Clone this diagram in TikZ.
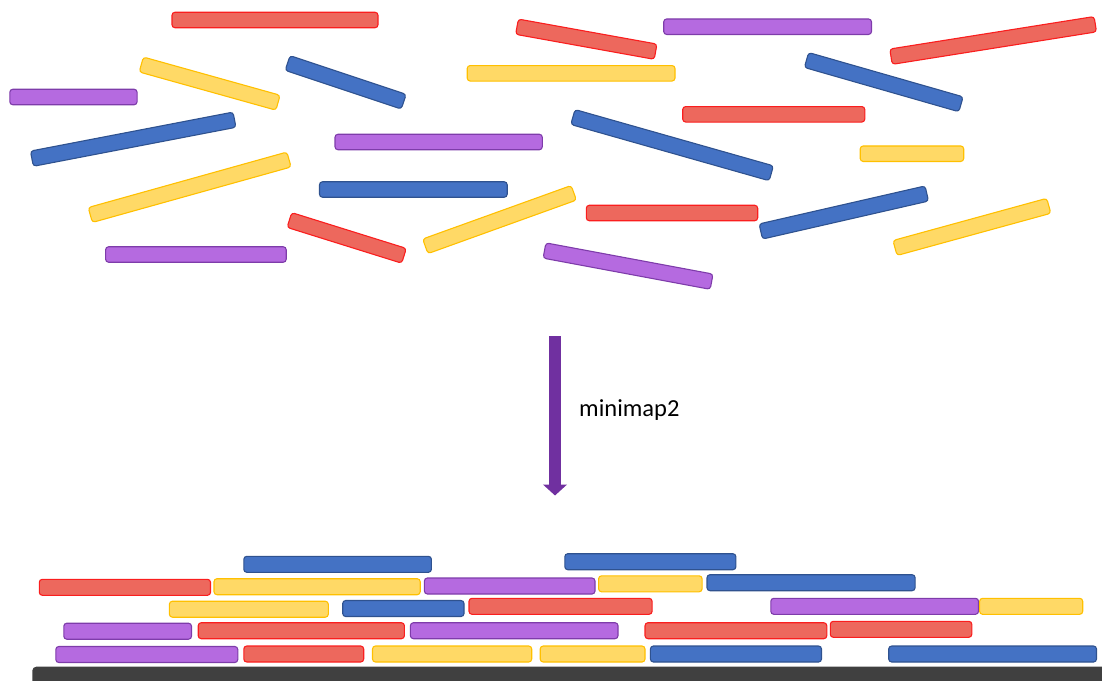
\documentclass[tikz,border=0pt]{standalone}
\usepackage{fontspec}
\setmainfont{Carlito}
\usetikzlibrary{calc,arrows.meta}

\definecolor{redfill}{RGB}{237,104,93}
\definecolor{redline}{RGB}{250,30,30}
\definecolor{yelfill}{RGB}{255,217,102}
\definecolor{yelline}{RGB}{255,192,0}
\definecolor{blufill}{RGB}{68,114,196}
\definecolor{bluline}{RGB}{47,82,143}
\definecolor{purfill}{RGB}{181,106,224}
\definecolor{purline}{RGB}{126,60,170}
\definecolor{arrowpurple}{RGB}{112,48,160}
\definecolor{refdark}{RGB}{64,64,64}

\tikzset{
  readbar/.style={draw, line width=1.1pt, rounded corners=3pt, inner sep=0pt,
    minimum height=15.5pt, outer sep=0pt},
  redr/.style={readbar, fill=redfill, draw=redline},
  yelr/.style={readbar, fill=yelfill, draw=yelline},
  blur/.style={readbar, fill=blufill, draw=bluline},
  purr/.style={readbar, fill=purfill, draw=purline},
  aligned/.style={minimum height=16pt},
  maparrow/.style={draw=arrowpurple, line width=11.4pt,
    -{Triangle[width=23.5pt,length=11pt]}},
  toollabel/.style={font=\fontsize{24.5}{29}\selectfont, inner sep=0pt, anchor=base west}
}

% one read: style, name, centre of one end, centre of the other end
\newcommand\drawread[4]{%
  \path let \p1=($#4-#3$), \n1={atan2(\y1,\x1)}, \n2={veclen(\x1,\y1)} in
    node[#1, rotate=\n1, minimum width=\n2] (#2) at ($#3!0.5!#4$) {};}

\begin{document}
\begin{tikzpicture}[x=1pt,y=-1pt]
\useasboundingbox (0,0) rectangle (1102,680);
\clip (0,0) rectangle (1102,680);

% unaligned reads
\drawread{redr}{t1}{(172,20)}{(378,20)}
\drawread{yelr}{t2}{(141.3,64.5)}{(278,102.7)}
\drawread{blur}{t3}{(287.6,63)}{(403.7,101.7)}
\drawread{purr}{t4}{(9.8,97)}{(137.1,97)}
\drawread{blur}{t5}{(31.9,158.7)}{(234.5,119.7)}
\drawread{purr}{t6}{(335,142)}{(542.3,142)}
\drawread{yelr}{t7}{(90.3,215)}{(289,159.5)}
\drawread{blur}{t8}{(319.5,189.5)}{(507.2,189.5)}
\drawread{redr}{t9}{(289.4,220)}{(404,255.8)}
\drawread{purr}{t10}{(105.6,254.5)}{(286.2,254.5)}
\drawread{yelr}{t11}{(425.3,246.3)}{(573.8,192.8)}
\drawread{redr}{t12}{(517,26.7)}{(655.6,51.7)}
\drawread{purr}{t13}{(663.7,26.7)}{(871.5,26.7)}
\drawread{redr}{t14}{(891,56.7)}{(1095.3,24.2)}
\drawread{yelr}{t15}{(467.2,73.3)}{(675,73.3)}
\drawread{blur}{t16}{(806.5,60)}{(961,104.3)}
\drawread{redr}{t17}{(682.7,114.3)}{(864.8,114.3)}
\drawread{blur}{t18}{(572.9,117)}{(771.3,173.3)}
\drawread{yelr}{t19}{(860.2,153.7)}{(963.7,153.7)}
\drawread{redr}{t20}{(586.3,213)}{(757.7,213)}
\drawread{blur}{t21}{(760.8,231.5)}{(926.8,193.5)}
\drawread{yelr}{t22}{(895,248)}{(1048.8,205.8)}
\drawread{purr}{t23}{(544.5,250.5)}{(711.6,281.7)}

% mapping step
\coordinate (astart) at (555,336);
\coordinate (aend) at (555,495.5);
\draw[maparrow] (astart) -- (aend);
\node[toollabel] (tool) at (579,416) {minimap2};

% reference sequence
\fill[refdark, rounded corners=4pt] (32.3,666.7) rectangle (1120,700);

% aligned reads, stacked over the reference
\drawread{blur,aligned}{b1}{(243.8,564.3)}{(431.4,564.3)}
\drawread{blur,aligned}{b2}{(564.8,561.7)}{(735.9,561.7)}

\drawread{redr,aligned}{b3}{(39.3,587.3)}{(210.5,587.3)}
\drawread{yelr,aligned}{b4}{(214,586.7)}{(420.2,586.7)}
\drawread{purr,aligned}{b5}{(424.4,586)}{(595,586)}
\drawread{yelr,aligned}{b6}{(598.6,583.8)}{(702.1,583.8)}
\drawread{blur,aligned}{b7}{(707,582.7)}{(915.1,582.7)}

\drawread{yelr,aligned}{b8}{(169.4,609.2)}{(328.3,609.2)}
\drawread{blur,aligned}{b9}{(342.7,608.5)}{(464,608.5)}
\drawread{redr,aligned}{b10}{(469,606.3)}{(652.1,606.3)}
\drawread{purr,aligned}{b11}{(770.8,606.3)}{(978.5,606.3)}
\drawread{yelr,aligned}{b12}{(979.6,606.3)}{(1082.7,606.3)}

\drawread{purr,aligned}{b13}{(63.8,631.2)}{(191.5,631.2)}
\drawread{redr,aligned}{b14}{(198.2,630.7)}{(404.4,630.7)}
\drawread{purr,aligned}{b15}{(410.4,630.7)}{(618,630.7)}
\drawread{redr,aligned}{b16}{(645,630.7)}{(826.8,630.7)}
\drawread{redr,aligned}{b17}{(830.3,629.3)}{(971.8,629.3)}

\drawread{purr,aligned}{b18}{(55.8,654.5)}{(237.8,654.5)}
\drawread{redr,aligned}{b19}{(243.8,654)}{(363.7,654)}
\drawread{yelr,aligned}{b20}{(372.5,654)}{(531.7,654)}
\drawread{yelr,aligned}{b21}{(540.2,654)}{(645,654)}
\drawread{blur,aligned}{b22}{(650.4,654)}{(821.5,654)}
\drawread{blur,aligned}{b23}{(888.7,654)}{(1096.5,654)}
\end{tikzpicture}
\end{document}
